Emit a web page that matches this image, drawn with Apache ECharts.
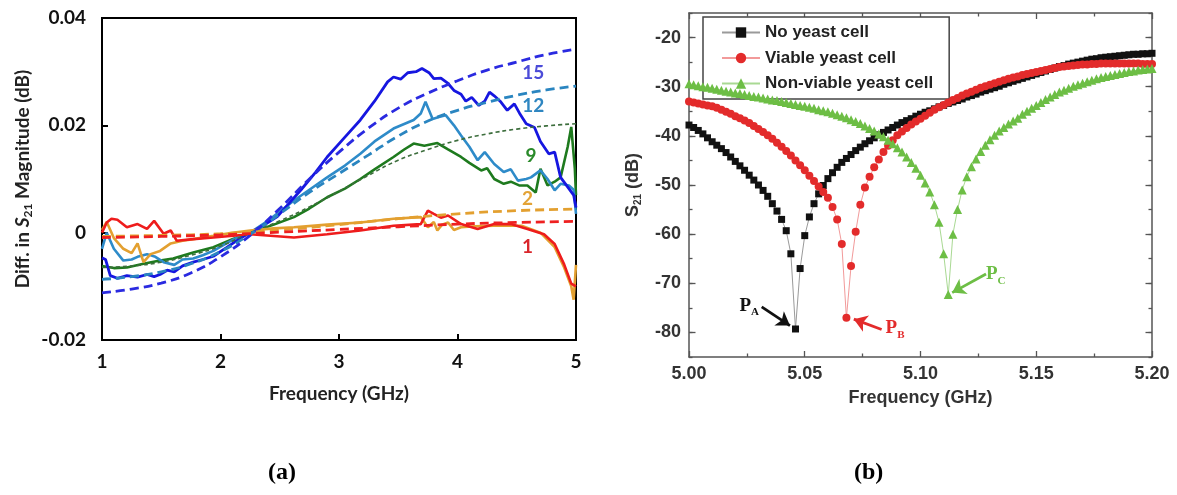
<!DOCTYPE html>
<html>
<head>
<meta charset="utf-8">
<script src="https://cdn.jsdelivr.net/npm/echarts@6/dist/echarts.min.js"></script>
<style>
html,body{margin:0;padding:0;background:#fff;}
#chart{width:1177px;height:495px;}
</style>
</head>
<body>
<div id="chart"></div>
<script>
// ---------- Panel (a): Diff. in S21 magnitude vs frequency ----------
const meas15 = [[1.00,-0.0047],[1.03,-0.0050],[1.07,-0.0080],[1.13,-0.0085],[1.21,-0.0080],[1.30,-0.0083],[1.38,-0.0078],[1.44,-0.0082],[1.49,-0.0078],[1.55,-0.0070],[1.61,-0.0073],[1.68,-0.0062],[1.77,-0.0055],[1.85,-0.0050],[1.94,-0.0044],[2.05,-0.0028],[2.15,-0.0013],[2.25,0.0000],[2.35,0.0012],[2.48,0.0030],[2.58,0.0055],[2.68,0.0080],[2.80,0.0112],[2.90,0.0141],[3.05,0.0178],[3.18,0.0210],[3.30,0.0245],[3.41,0.0281],[3.46,0.0290],[3.52,0.0286],[3.58,0.0298],[3.65,0.0300],[3.70,0.0306],[3.76,0.0298],[3.80,0.0287],[3.86,0.0288],[3.92,0.0278],[3.97,0.0265],[4.03,0.0258],[4.07,0.0245],[4.12,0.0252],[4.18,0.0237],[4.23,0.0245],[4.27,0.0262],[4.31,0.0255],[4.36,0.0245],[4.42,0.0228],[4.48,0.0240],[4.53,0.0220],[4.58,0.0203],[4.65,0.0196],[4.70,0.0170],[4.77,0.0147],[4.82,0.0150],[4.87,0.0103],[4.94,0.0082],[4.98,0.0070],[5.00,0.0047]];
const fit15 = [[1.0,-0.0112],[1.25,-0.0105],[1.5,-0.0094],[1.75,-0.0075],[2.0,-0.0045],[2.25,-0.0005],[2.5,0.0045],[2.75,0.0100],[3.0,0.0150],[3.25,0.0195],[3.5,0.0232],[3.75,0.0260],[4.0,0.0283],[4.25,0.0303],[4.5,0.0318],[4.75,0.0332],[5.0,0.0342]];
const meas12 = [[1.00,-0.0030],[1.04,0.0000],[1.10,-0.0030],[1.18,-0.0052],[1.25,-0.0050],[1.30,-0.0045],[1.38,-0.0040],[1.45,-0.0045],[1.52,-0.0055],[1.61,-0.0060],[1.68,-0.0050],[1.77,-0.0048],[1.85,-0.0042],[1.94,-0.0034],[2.05,-0.0020],[2.15,-0.0008],[2.25,0.0000],[2.40,0.0022],[2.62,0.0060],[2.75,0.0080],[2.90,0.0103],[3.05,0.0125],[3.18,0.0147],[3.30,0.0170],[3.46,0.0194],[3.63,0.0210],[3.69,0.0222],[3.73,0.0244],[3.79,0.0212],[3.85,0.0216],[3.90,0.0219],[3.97,0.0200],[4.03,0.0181],[4.10,0.0160],[4.17,0.0135],[4.23,0.0150],[4.31,0.0128],[4.39,0.0113],[4.45,0.0118],[4.51,0.0097],[4.58,0.0100],[4.62,0.0103],[4.70,0.0116],[4.76,0.0100],[4.82,0.0079],[4.87,0.0091],[4.94,0.0088],[4.98,0.0080],[5.00,0.0035]];
const fit12 = [[1.0,-0.0087],[1.25,-0.0082],[1.5,-0.0073],[1.75,-0.0058],[2.0,-0.0035],[2.25,-0.0003],[2.5,0.0035],[2.75,0.0075],[3.0,0.0110],[3.25,0.0145],[3.5,0.0180],[3.75,0.0208],[4.0,0.0228],[4.25,0.0243],[4.5,0.0256],[4.75,0.0266],[5.0,0.0273]];
const meas9 = [[1.00,-0.0062],[1.10,-0.0066],[1.21,-0.0065],[1.35,-0.0058],[1.49,-0.0052],[1.60,-0.0048],[1.77,-0.0037],[1.94,-0.0027],[2.10,-0.0012],[2.25,0.0000],[2.45,0.0015],[2.62,0.0029],[2.75,0.0045],[2.90,0.0066],[3.05,0.0082],[3.18,0.0100],[3.30,0.0118],[3.46,0.0141],[3.55,0.0155],[3.63,0.0166],[3.72,0.0162],[3.83,0.0167],[3.92,0.0155],[4.03,0.0141],[4.10,0.0130],[4.20,0.0116],[4.25,0.0120],[4.31,0.0100],[4.39,0.0091],[4.45,0.0095],[4.52,0.0088],[4.59,0.0088],[4.66,0.0075],[4.70,0.0119],[4.76,0.0088],[4.82,0.0095],[4.87,0.0103],[4.93,0.0160],[4.96,0.0197],[4.99,0.0120],[5.00,0.0070]];
const fit9 = [[1.0,-0.0065],[1.25,-0.0062],[1.5,-0.0055],[1.75,-0.0042],[2.0,-0.0025],[2.25,0.0000],[2.5,0.0022],[2.75,0.0048],[3.0,0.0077],[3.25,0.0107],[3.5,0.0135],[3.75,0.0155],[4.0,0.0172],[4.25,0.0184],[4.5,0.0193],[4.75,0.0199],[5.0,0.0203]];
const meas2 = [[1.00,0.0005],[1.04,0.0020],[1.10,-0.0010],[1.18,-0.0030],[1.25,-0.0038],[1.30,-0.0020],[1.35,-0.0055],[1.41,-0.0040],[1.49,-0.0034],[1.58,-0.0020],[1.68,-0.0015],[1.77,-0.0012],[1.94,-0.0006],[2.10,0.0000],[2.25,0.0004],[2.45,0.0008],[2.62,0.0010],[2.90,0.0015],[3.18,0.0019],[3.46,0.0026],[3.69,0.0029],[3.75,0.0010],[3.80,0.0020],[3.83,0.0004],[3.87,0.0015],[3.92,0.0019],[3.97,0.0005],[4.03,0.0010],[4.15,0.0012],[4.31,0.0013],[4.54,0.0013],[4.70,0.0000],[4.82,-0.0027],[4.90,-0.0065],[4.96,-0.0100],[4.98,-0.0125],[5.00,-0.0060]];
const fit2 = [[1.0,-0.0007],[1.5,-0.0005],[2.0,-0.0002],[2.5,0.0005],[3.0,0.0015],[3.5,0.0026],[4.0,0.0035],[4.5,0.0041],[5.0,0.0044]];
const meas1 = [[1.00,0.0000],[1.04,0.0019],[1.08,0.0026],[1.13,0.0024],[1.21,0.0010],[1.30,0.0016],[1.38,0.0007],[1.44,0.0022],[1.52,-0.0002],[1.58,0.0004],[1.63,-0.0015],[1.77,-0.0012],[1.94,-0.0009],[2.25,-0.0003],[2.62,-0.0009],[2.90,-0.0003],[3.18,0.0004],[3.46,0.0013],[3.69,0.0016],[3.75,0.0041],[3.80,0.0035],[3.86,0.0028],[3.92,0.0032],[4.03,0.0016],[4.17,0.0007],[4.31,0.0016],[4.45,0.0016],[4.59,0.0007],[4.73,-0.0003],[4.82,-0.0021],[4.90,-0.0059],[4.96,-0.0095],[5.00,-0.0100]];
const fit1 = [[1.0,-0.0009],[1.5,-0.0007],[2.0,-0.0004],[2.5,0.0001],[3.0,0.0006],[3.5,0.0011],[4.0,0.0016],[4.5,0.0019],[5.0,0.0021]];
const labelsA = [
  {text:'15', coord:[4.64,0.0297], color:'#4b4bd8'},
  {text:'12', coord:[4.64,0.0236], color:'#2e86c1'},
  {text:'9',  coord:[4.62,0.0144], color:'#2a8a2a'},
  {text:'2',  coord:[4.59,0.0063], color:'#e3a336'},
  {text:'1',  coord:[4.59,-0.0027], color:'#d9262b'}
];
const ticksAX = [1,2,3,4,5];

// ---------- Panel (b): S21 vs frequency ----------
const freqB = [5.000,5.002,5.004,5.006,5.008,5.010,5.012,5.014,5.016,5.018,
5.020,5.022,5.024,5.026,5.028,5.030,5.032,5.034,5.036,5.038,
5.040,5.042,5.044,5.046,5.048,5.050,5.052,5.054,5.056,5.058,
5.060,5.062,5.064,5.066,5.068,5.070,5.072,5.074,5.076,5.078,
5.080,5.082,5.084,5.086,5.088,5.090,5.092,5.094,5.096,5.098,
5.100,5.102,5.104,5.106,5.108,5.110,5.112,5.114,5.116,5.118,
5.120,5.122,5.124,5.126,5.128,5.130,5.132,5.134,5.136,5.138,
5.140,5.142,5.144,5.146,5.148,5.150,5.152,5.154,5.156,5.158,
5.160,5.162,5.164,5.166,5.168,5.170,5.172,5.174,5.176,5.178,
5.180,5.182,5.184,5.186,5.188,5.190,5.192,5.194,5.196,5.198,
5.200];
const s21NoYeast = [-37.8,-38.3,-38.9,-39.6,-40.4,-41.2,-41.9,-42.6,-43.4,-44.3,
-45.2,-46.1,-47.0,-48.0,-49.0,-50.0,-51.1,-52.3,-53.8,-55.3,
-57.0,-59.3,-64.0,-79.3,-67.0,-60.3,-56.5,-53.8,-51.8,-50.1,
-48.7,-47.5,-46.4,-45.4,-44.6,-43.8,-43.0,-42.3,-41.6,-41.0,
-40.4,-39.8,-39.3,-38.8,-38.3,-37.8,-37.3,-36.9,-36.5,-36.0,
-35.6,-35.2,-34.9,-34.5,-34.1,-33.8,-33.4,-33.1,-32.8,-32.5,
-32.1,-31.8,-31.5,-31.1,-30.8,-30.5,-30.2,-29.9,-29.5,-29.2,
-28.9,-28.6,-28.3,-28.0,-27.7,-27.4,-27.1,-26.8,-26.5,-26.2,
-25.9,-25.7,-25.4,-25.2,-25.0,-24.8,-24.6,-24.4,-24.3,-24.1,
-24.0,-23.9,-23.8,-23.7,-23.6,-23.5,-23.4,-23.4,-23.3,-23.3,
-23.2];
const s21Viable = [-33.0,-33.2,-33.4,-33.6,-33.8,-34.0,-34.3,-34.7,-35.1,-35.5,
-36.0,-36.4,-36.9,-37.4,-38.0,-38.6,-39.2,-39.9,-40.6,-41.4,
-42.2,-43.1,-44.0,-45.0,-46.0,-47.0,-48.1,-49.2,-50.3,-51.4,
-52.6,-54.5,-57.0,-62.0,-77.0,-66.5,-59.5,-54.0,-50.5,-48.3,
-46.4,-44.8,-43.3,-42.0,-40.9,-39.9,-39.1,-38.4,-37.7,-37.1,
-36.5,-35.9,-35.3,-34.7,-34.2,-33.7,-33.2,-32.7,-32.3,-31.8,
-31.4,-31.0,-30.6,-30.2,-29.9,-29.6,-29.3,-29.0,-28.7,-28.4,
-28.1,-27.9,-27.6,-27.4,-27.2,-27.0,-26.8,-26.6,-26.4,-26.2,
-26.0,-25.9,-25.8,-25.7,-25.6,-25.5,-25.5,-25.4,-25.4,-25.3,
-25.3,-25.3,-25.3,-25.3,-25.3,-25.3,-25.3,-25.3,-25.4,-25.4,
-25.4];
const s21NonViable = [-29.4,-29.6,-29.8,-30.0,-30.1,-30.3,-30.5,-30.7,-30.9,-31.1,
-31.3,-31.4,-31.6,-31.8,-32.0,-32.1,-32.3,-32.5,-32.7,-32.8,
-33.0,-33.2,-33.4,-33.6,-33.8,-34.0,-34.2,-34.4,-34.7,-34.9,
-35.1,-35.4,-35.7,-36.0,-36.3,-36.7,-37.1,-37.5,-38.0,-38.5,
-39.0,-39.6,-40.2,-40.9,-41.6,-42.4,-43.3,-44.3,-45.4,-46.6,
-48.0,-49.6,-51.4,-54.0,-57.6,-64.0,-72.3,-60.0,-55.0,-51.0,
-48.3,-46.3,-44.7,-43.2,-41.9,-40.8,-39.9,-39.0,-38.3,-37.6,
-37.0,-36.4,-35.6,-35.0,-34.4,-33.8,-33.2,-32.6,-32.1,-31.6,
-31.1,-30.7,-30.3,-29.9,-29.6,-29.3,-29.0,-28.7,-28.4,-28.1,
-27.9,-27.7,-27.5,-27.3,-27.1,-26.9,-26.8,-26.6,-26.5,-26.4,
-26.3];
const ticksBY = [-80,-70,-60,-50,-40,-30,-20];
const seriesNamesB = ['No yeast cell','Viable yeast cell','Non-viable yeast cell'];
const arrowsB = [
  {from:[5.0314,-74.8], to:[5.0436,-78.6], color:'#111111', label:'{p|P}{s|A}', at:[5.0260,-74.6]},
  {from:[5.0832,-79.4], to:[5.0712,-77.3], color:'#e32b2b', label:'{p|P}{s|B}', at:[5.0890,-79.2]},
  {from:[5.1283,-68.1], to:[5.1137,-71.9], color:'#6dbe45', label:'{p|P}{s|C}', at:[5.1325,-68.2]}
];

// ---------- build ----------
const zip = (xs, ys) => xs.map((x, i) => [x, ys[i]]);
const fontA = 'Lato';
const fontB = 'Liberation Sans';

function lineA(data, color, width, dash, smooth, z) {
  return {type:'line', xAxisIndex:0, yAxisIndex:0, data:data, showSymbol:false, symbol:'none',
    smooth:smooth, z:z, lineStyle:{color:color, width:width, type:dash}};
}
const seriesA = [
  lineA(meas9, '#1e7a1e', 2.6, 'solid', false, 2),
  lineA(meas12, '#2e8bc9', 2.6, 'solid', false, 2),
  lineA(meas15, '#1616e0', 2.8, 'solid', false, 3),
  lineA(meas2, '#e3a030', 2.6, 'solid', false, 3),
  lineA(meas1, '#ee1c1c', 2.6, 'solid', false, 3),
  lineA(fit9, '#3d6e3d', 1.6, [4,3], true, 4),
  lineA(fit12, '#2a85c0', 2.8, [9,5], true, 4),
  lineA(fit15, '#2a2ae0', 2.8, [9,5], true, 4),
  lineA(fit2, '#e3a030', 2.8, [9,5], true, 4),
  lineA(fit1, '#ee2020', 2.8, [9,5], true, 4)
];
seriesA.push({
  type:'scatter', xAxisIndex:0, yAxisIndex:0, silent:true, symbolSize:0, data:[], z:5,
  markPoint:{symbol:'circle', symbolSize:1, silent:true, itemStyle:{color:'rgba(0,0,0,0)'},
    data: labelsA.map(l => ({coord:l.coord, label:{show:true, position:'inside', formatter:l.text, color:l.color,
      fontFamily:fontA, fontWeight:'bold', fontSize:19}}))}
});

const bStyles = [
  {symbol:'rect', size:7, color:'#111111', line:'#9a9a9a'},
  {symbol:'circle', size:8, color:'#e32b2b', line:'#f29a9a'},
  {symbol:'triangle', size:9, color:'#6dbe45', line:'#a9d993'}
];
const bData = [s21NoYeast, s21Viable, s21NonViable];
const seriesB = bData.map((vals, i) => ({
  type:'line', name:seriesNamesB[i], xAxisIndex:1, yAxisIndex:1, data:zip(freqB, vals),
  symbol:bStyles[i].symbol, symbolSize:bStyles[i].size, showAllSymbol:true, z:3+i,
  itemStyle:{color:bStyles[i].color}, lineStyle:{color:bStyles[i].line, width:1},
  markLine:{silent:true, symbol:['none','arrow'], symbolSize:13, label:{show:false},
    lineStyle:{type:'solid', width:2.8, color:arrowsB[i].color},
    data:[[{coord:arrowsB[i].from}, {coord:arrowsB[i].to}]]},
  markPoint:{symbol:'circle', symbolSize:1, silent:true, itemStyle:{color:'rgba(0,0,0,0)'},
    data:[{coord:arrowsB[i].at, label:{show:true, position:'inside', formatter:arrowsB[i].label,
      rich:{p:{fontFamily:'Liberation Serif', fontWeight:'bold', fontSize:19, color:arrowsB[i].color},
            s:{fontFamily:'Liberation Serif', fontWeight:'bold', fontSize:11, color:arrowsB[i].color, padding:[13,0,0,0]}}}}]}
}));

const axLabelA = {fontFamily:fontA, fontWeight:'bold', fontSize:19, color:'#111'};
const axLabelB = {fontFamily:fontB, fontWeight:'bold', fontSize:18, color:'#333'};
const bLine = {show:true, lineStyle:{color:'#555', width:1.5}};

const option = {
  animation:false,
  backgroundColor:'#ffffff',
  grid:[
    {left:102, top:18, width:474, height:322, show:true, borderColor:'#000', borderWidth:2, backgroundColor:'transparent'},
    {left:689, top:13, width:463, height:344, show:false}
  ],
  legend:{
    data:seriesNamesB, orient:'vertical', left:703, top:17, padding:[7,16,7,18],
    itemWidth:38, itemHeight:13, itemGap:8.5, borderColor:'#444', borderWidth:1.5, backgroundColor:'#fff',
    textStyle:{fontFamily:fontB, fontWeight:'bold', fontSize:17, color:'#222'}
  },
  xAxis:[
    {type:'value', gridIndex:0, min:1, max:5, interval:1,
     axisLine:{show:true, onZero:false, lineStyle:{color:'#000', width:2}},
     axisTick:{show:true, inside:true, length:6, lineStyle:{color:'#000', width:2}},
     axisLabel:Object.assign({margin:12, customValues:ticksAX}, axLabelA), splitLine:{show:false},
     name:'Frequency (GHz)', nameLocation:'middle', nameGap:44,
     nameTextStyle:{fontFamily:fontA, fontWeight:'bold', fontSize:19, color:'#222'}},
    {type:'value', gridIndex:1, min:5, max:5.2, interval:0.05, position:'bottom',
     axisLine:Object.assign({onZero:false}, bLine),
     axisTick:{show:true, inside:true, length:6, lineStyle:{color:'#555', width:1.3}},
     minorTick:{show:true, splitNumber:2, length:3.5, lineStyle:{color:'#555', width:1.3}},
     axisLabel:Object.assign({margin:8, formatter:v => v.toFixed(2)}, axLabelB), splitLine:{show:false}, minorSplitLine:{show:false},
     name:'Frequency (GHz)', nameLocation:'middle', nameGap:32,
     nameTextStyle:{fontFamily:fontB, fontWeight:'bold', fontSize:18, color:'#333'}},
    {type:'value', gridIndex:1, min:5, max:5.2, interval:0.05, position:'top',
     axisLine:Object.assign({onZero:false}, bLine),
     axisTick:{show:true, inside:true, length:6, lineStyle:{color:'#555', width:1.3}},
     minorTick:{show:true, splitNumber:2, length:3.5, lineStyle:{color:'#555', width:1.3}},
     axisLabel:{show:false}, splitLine:{show:false}}
  ],
  yAxis:[
    {type:'value', gridIndex:0, min:-0.02, max:0.04, interval:0.02,
     axisLine:{show:true, onZero:false, lineStyle:{color:'#000', width:2}},
     axisTick:{show:true, inside:true, length:6, lineStyle:{color:'#000', width:2}},
     axisLabel:Object.assign({margin:16}, axLabelA), splitLine:{show:false},
     name:'{t|Diff. in }{i|S}{s|21}{t| Magnitude (dB)}', nameLocation:'middle', nameGap:68, nameRotate:90,
     nameTextStyle:{rich:{
       t:{fontFamily:fontA, fontWeight:'bold', fontSize:19, color:'#222'},
       i:{fontFamily:fontA, fontWeight:'bold', fontStyle:'italic', fontSize:19, color:'#222'},
       s:{fontFamily:fontA, fontWeight:'bold', fontSize:12, color:'#222', padding:[10,0,0,0]}}}},
    {type:'value', gridIndex:1, min:-85, max:-15, interval:5, position:'left',
     axisLine:Object.assign({onZero:false}, bLine),
     axisTick:{show:true, inside:true, length:3.5, lineStyle:{color:'#555', width:1.3}},
     axisLabel:Object.assign({margin:8, customValues:ticksBY, formatter:v => (Math.round(v) % 10 === 0 ? String(Math.round(v)) : '')}, axLabelB),
     splitLine:{show:false},
     name:'{t|S}{s|21}{t| (dB)}', nameLocation:'middle', nameGap:46, nameRotate:90,
     nameTextStyle:{rich:{
       t:{fontFamily:fontB, fontWeight:'bold', fontSize:18, color:'#333'},
       s:{fontFamily:fontB, fontWeight:'bold', fontSize:10, color:'#333', padding:[10,0,0,0]}}}},
    {type:'value', gridIndex:1, min:-85, max:-15, interval:5, position:'left',
     axisLine:{show:false}, axisLabel:{show:false}, splitLine:{show:false},
     axisTick:{show:true, inside:true, length:6.5, customValues:ticksBY, lineStyle:{color:'#555', width:1.3}}},
    {type:'value', gridIndex:1, min:-85, max:-15, interval:5, position:'right',
     axisLine:Object.assign({onZero:false}, bLine), axisLabel:{show:false}, splitLine:{show:false},
     axisTick:{show:true, inside:true, length:3.5, lineStyle:{color:'#555', width:1.3}}},
    {type:'value', gridIndex:1, min:-85, max:-15, interval:5, position:'right',
     axisLine:{show:false}, axisLabel:{show:false}, splitLine:{show:false},
     axisTick:{show:true, inside:true, length:6.5, customValues:ticksBY, lineStyle:{color:'#555', width:1.3}}}
  ],
  graphic:[
    {type:'text', left:268, top:461, style:{text:'(a)', font:'bold 24px "Liberation Serif"', fill:'#000'}},
    {type:'text', left:854, top:461, style:{text:'(b)', font:'bold 24px "Liberation Serif"', fill:'#000'}}
  ],
  series: seriesA.concat(seriesB)
};

const chart = echarts.init(document.getElementById('chart'), null, {renderer:'canvas'});
chart.setOption(option);
</script>
</body>
</html>
